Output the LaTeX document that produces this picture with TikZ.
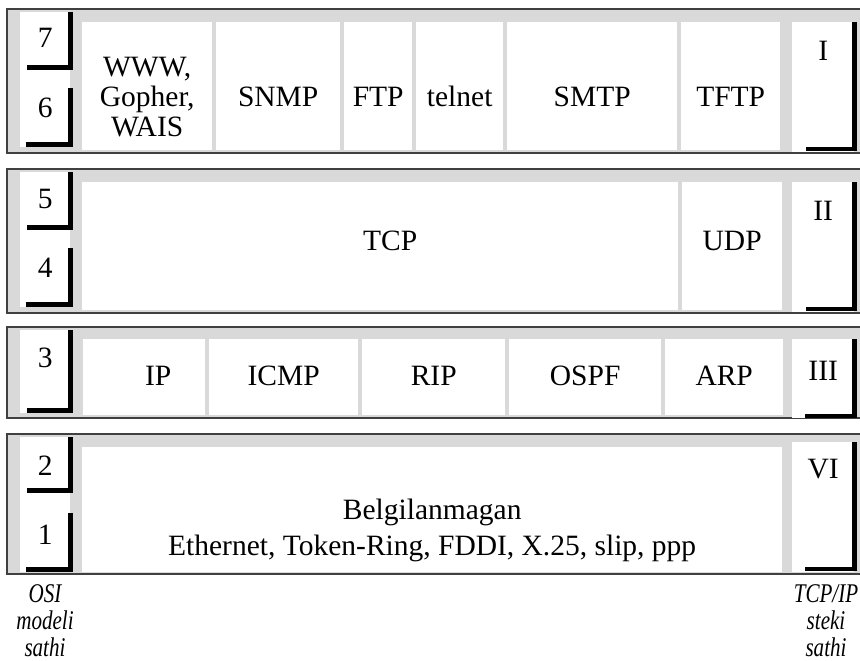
\documentclass[tikz,border=0pt]{standalone}
\usepackage{fontspec}
\setmainfont{Liberation Serif}
\newfontfamily\notefont{Liberation Serif}[FakeStretch=0.78]
\usetikzlibrary{calc}
\usetikzlibrary{positioning}

\definecolor{bandgray}{RGB}{217,217,217}
\definecolor{framegray}{RGB}{64,64,64}

\tikzset{
  band/.style={draw=framegray, line width=1.3pt, fill=bandgray},
  cell/.style={fill=white, inner sep=0pt, anchor=north west},
  osi/.style={cell, minimum width=50pt},
  stack/.style={cell, minimum width=62pt},
  corner/.style={line width=4.5pt, line join=miter},
  proto/.style={font=\fontsize{29.5}{30}\selectfont, align=center, inner sep=0pt},
  num/.style={proto},
  note/.style={font=\notefont\itshape\fontsize{27}{27}\selectfont, align=center, inner sep=0pt}
}

\begin{document}
\begin{tikzpicture}[x=1pt, y=-1pt]
    \useasboundingbox (0,0) rectangle (860,661);

    % Bands:
    \draw[band] (7,9) rectangle (863,153);
    \draw[band] (7,169) rectangle (863,313);
    \draw[band] (7,327) rectangle (863,418);
    \draw[band] (7,434) rectangle (863,574);

    % OSI layers (left column):
    \node[osi, minimum height=55pt] (osi7) at (20,12) {};
    \node[osi, minimum height=80pt] (osi6) at (20,67) {};
    \node[osi, minimum height=55pt] (osi5) at (20,172) {};
    \node[osi, minimum height=80pt] (osi4) at (20,227) {};
    \node[osi, minimum height=83pt] (osi3) at (20,330) {};
    \node[osi, minimum height=53pt] (osi2) at (20,437) {};
    \node[osi, minimum height=82pt] (osi1) at (20,490) {};

    % TCP/IP layers (right column):
    \node[stack, minimum height=130pt] (tI) at (792,22) {};
    \node[stack, minimum height=130pt] (tII) at (792,182) {};
    \node[stack, minimum height=79pt] (tIII) at (792,339) {};
    \node[stack, minimum height=130pt] (tVI) at (792,442) {};

    % Protocols:
    \node[cell, minimum width=130pt, minimum height=128pt] (www) at (82,22) {};
    \node[cell, minimum width=124pt, minimum height=128pt] (snmp) at (216,22) {};
    \node[cell, minimum width=68pt, minimum height=128pt] (ftp) at (344,22) {};
    \node[cell, minimum width=87pt, minimum height=128pt] (telnet) at (416,22) {};
    \node[cell, minimum width=170pt, minimum height=128pt] (smtp) at (507,22) {};
    \node[cell, minimum width=99pt, minimum height=128pt] (tftp) at (681,22) {};

    \node[cell, minimum width=596pt, minimum height=128pt] (tcp) at (82,182) {};
    \node[cell, minimum width=100pt, minimum height=128pt] (udp) at (682,182) {};

    \node[cell, minimum width=122pt, minimum height=76pt] (ip) at (83,339) {};
    \node[cell, minimum width=149pt, minimum height=76pt] (icmp) at (209,339) {};
    \node[cell, minimum width=143pt, minimum height=76pt] (rip) at (362,339) {};
    \node[cell, minimum width=152pt, minimum height=76pt] (ospf) at (509,339) {};
    \node[cell, minimum width=118pt, minimum height=76pt] (arp) at (665,339) {};

    \node[cell, minimum width=700pt, minimum height=125pt] (link) at (82,447) {};

    % Protocol names:
    \node[proto] (twww) at ([yshift=-11pt]www.center) {WWW,\\Gopher,\\WAIS};
    \node[proto] (tsnmp) at ([yshift=-11pt]snmp.center) {SNMP};
    \node[proto] (tftp1) at ([yshift=-11pt]ftp.center) {FTP};
    \node[proto] (ttelnet) at ([yshift=-10pt]telnet.center) {telnet};
    \node[proto] (tsmtp) at ([yshift=-11pt]smtp.center) {SMTP};
    \node[proto] (ttftp) at ([yshift=-11pt]tftp.center) {TFTP};
    \node[proto] (ttcp) at ([xshift=10pt,yshift=5pt]tcp.center) {TCP};
    \node[proto] (tudp) at ([yshift=5pt]udp.center) {UDP};
    \node[proto] (tip) at ([xshift=14pt,yshift=1pt]ip.center) {IP};
    \node[proto] (ticmp) at ([yshift=1pt]icmp.center) {ICMP};
    \node[proto] (trip) at ([yshift=1pt]rip.center) {RIP};
    \node[proto] (tospf) at ([yshift=1pt]ospf.center) {OSPF};
    \node[proto] (tarp) at ([yshift=1pt]arp.center) {ARP};
    \node[proto, font=\fontsize{29.5}{36}\selectfont] (tlink) at ([yshift=-21pt]link.center)
        {Belgilanmagan\\Ethernet, Token-Ring, FDDI, X.25, slip, ppp};

    % Layer numbers:
    \node[num, below=15.5pt of osi7.north] (n7) {7};
    \node[num, below=30.5pt of osi6.north] (n6) {6};
    \node[num, below=16.5pt of osi5.north] (n5) {5};
    \node[num, below=30.5pt of osi4.north] (n4) {4};
    \node[num, below=17.5pt of osi3.north] (n3) {3};
    \node[num, below=18.5pt of osi2.north] (n2) {2};
    \node[num, below=34.5pt of osi1.north] (n1) {1};

    \node[num, below=18.5pt of tI.north] (rI) {I};
    \node[num, below=18.5pt of tII.north] (rII) {II};
    \node[num, below=21.5pt of tIII.north] (rIII) {III};
    \node[num, below=16.5pt of tVI.north] (rVI) {VI};

    % Corners:
    \draw[corner] (osi7.north east) |- ($(osi7.south west)+(7,0)$);
    \draw[corner] ($(osi6.north east)+(0,21)$) |- ($(osi6.south west)+(6,-3)$);
    \draw[corner] (osi5.north east) |- ($(osi5.south west)+(7,0)$);
    \draw[corner] ($(osi4.north east)+(0,21)$) |- ($(osi4.south west)+(6,-3)$);
    \draw[corner] (osi3.north east) |- ($(osi3.south west)+(7,-3)$);
    \draw[corner] (osi2.north east) |- ($(osi2.south west)+(7,0)$);
    \draw[corner] ($(osi1.north east)+(0,23)$) |- ($(osi1.south west)+(6,-3)$);

    \draw[corner] (tI.north east) |- ($(tI.south west)+(14,-3.5)$);
    \draw[corner] (tII.north east) |- ($(tII.south west)+(14,-3.5)$);
    \draw[corner] (tIII.north east) |- ($(tIII.south west)+(13,-2.5)$);
    \draw[corner] (tVI.north east) |- ($(tVI.south west)+(13,-3.5)$);

    % Column labels:
    \node[note] (osilbl) at (45,621) {OSI\\modeli\\sathi};
    \node[note] (tcplbl) at (826,621) {TCP/IP\\steki\\sathi};
\end{tikzpicture}
\end{document}
